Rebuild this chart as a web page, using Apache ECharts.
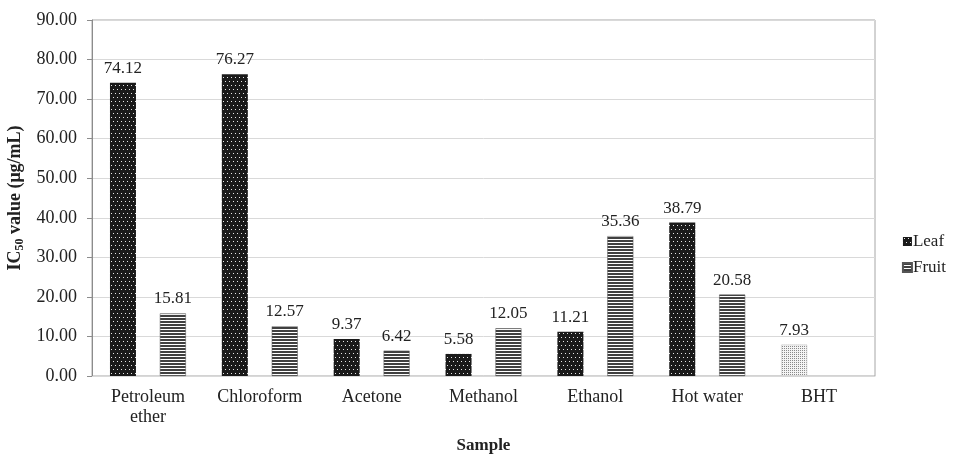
<!DOCTYPE html>
<html>
<head>
<meta charset="utf-8">
<script src="https://cdn.jsdelivr.net/npm/echarts@6/dist/echarts.min.js"></script>
<style>
  html, body { margin: 0; padding: 0; background: #fff; }
  #chart { width: 955px; height: 455px; }
</style>
</head>
<body>
<div id="chart"></div>
<script>
// Extraction solvents / reference compound
const categories = ['Petroleum\nether', 'Chloroform', 'Acetone', 'Methanol', 'Ethanol', 'Hot water', 'BHT'];
// IC50 values (µg/mL)
const leafValues = [74.12, 76.27, 9.37, 5.58, 11.21, 38.79, 7.93];
const fruitValues = [15.81, 12.57, 6.42, 12.05, 35.36, 20.58, null];
const yTicks = { min: 0, max: 90, interval: 10 };

// Fill patterns drawn on small canvas tiles
function makeTile(w, h, draw) {
  const c = document.createElement('canvas');
  c.width = w; c.height = h;
  const ctx = c.getContext('2d');
  draw(ctx);
  return { image: c, repeat: 'repeat' };
}
const leafPattern = makeTile(8, 8, ctx => {
  ctx.fillStyle = '#1a1a1a'; ctx.fillRect(0, 0, 8, 8);
  ctx.fillStyle = '#e6e6e6';
  ctx.fillRect(1, 1, 1, 1); ctx.fillRect(5, 1, 1, 1);
  ctx.fillRect(3, 5, 1, 1); ctx.fillRect(7, 5, 1, 1);
});
const fruitPattern = makeTile(4, 3, ctx => {
  ctx.fillStyle = '#ffffff'; ctx.fillRect(0, 0, 4, 3);
  ctx.fillStyle = '#404040'; ctx.fillRect(0, 0, 4, 2);
});
const bhtPattern = makeTile(2, 2, ctx => {
  ctx.fillStyle = '#f4f4f4'; ctx.fillRect(0, 0, 2, 2);
  ctx.fillStyle = '#8a8a8a'; ctx.fillRect(0, 0, 1, 1);
});

const FONT = 'Liberation Serif';
const INK = '#222';

const leafData = leafValues.map((v, i) =>
  categories[i] === 'BHT'
    ? { value: v, itemStyle: { color: bhtPattern, borderColor: '#bdbdbd', borderWidth: 0.5 } }
    : v);

const valueLabel = {
  show: true, position: 'top', distance: 6,
  fontFamily: FONT, fontSize: 17, color: INK,
  formatter: p => p.value == null ? '' : p.value.toFixed(2)
};

const chart = echarts.init(document.getElementById('chart'), null, { renderer: 'canvas' });
chart.setOption({
  animation: false,
  textStyle: { fontFamily: FONT },
  grid: {
    left: 92, right: 80, top: 20, bottom: 79,
    outerBoundsMode: 'none',
    containLabel: false,
    show: true, borderColor: '#a6a6a6', borderWidth: 1
  },
  legend: {
    orient: 'vertical',
    right: 4, top: 228,
    itemWidth: 9, itemHeight: 9, itemGap: 9,
    icon: 'rect',
    textStyle: { fontFamily: FONT, fontSize: 17, color: INK, padding: [0, 0, 0, -4] },
    data: ['Leaf', 'Fruit']
  },
  xAxis: {
    type: 'category',
    data: categories,
    name: 'Sample',
    nameLocation: 'middle',
    nameGap: 61,
    nameTextStyle: { fontFamily: FONT, fontSize: 17, fontWeight: 'bold', color: INK },
    axisLine: { lineStyle: { color: '#d9d9d9' } },
    axisTick: { show: false },
    axisLabel: { interval: 0, fontFamily: FONT, fontSize: 18, color: INK, margin: 11, lineHeight: 20 }
  },
  yAxis: {
    type: 'value',
    min: yTicks.min, max: yTicks.max, interval: yTicks.interval,
    name: '{a|IC}{s|50}{a| value (μg/mL)}',
    nameLocation: 'middle',
    nameRotate: 90,
    nameGap: 63,
    nameTextStyle: {
      rich: {
        a: { fontFamily: FONT, fontSize: 18, fontWeight: 'bold', color: INK },
        s: { fontFamily: FONT, fontSize: 12, fontWeight: 'bold', color: INK, padding: [8, 0, 0, 0] }
      }
    },
    axisLine: { show: true, lineStyle: { color: '#8c8c8c' } },
    axisTick: { show: true, length: 5, lineStyle: { color: '#8c8c8c' } },
    splitLine: { lineStyle: { color: '#d9d9d9' } },
    axisLabel: {
      fontFamily: FONT, fontSize: 18, color: INK, margin: 15,
      formatter: v => v.toFixed(2)
    }
  },
  series: [
    {
      name: 'Leaf', type: 'bar',
      data: leafData,
      barWidth: 26, barGap: '92%',
      itemStyle: { color: leafPattern },
      label: valueLabel
    },
    {
      name: 'Fruit', type: 'bar',
      data: fruitValues,
      barWidth: 26,
      itemStyle: { color: fruitPattern, borderColor: '#555', borderWidth: 0.5 },
      label: valueLabel
    }
  ]
});
</script>
</body>
</html>
